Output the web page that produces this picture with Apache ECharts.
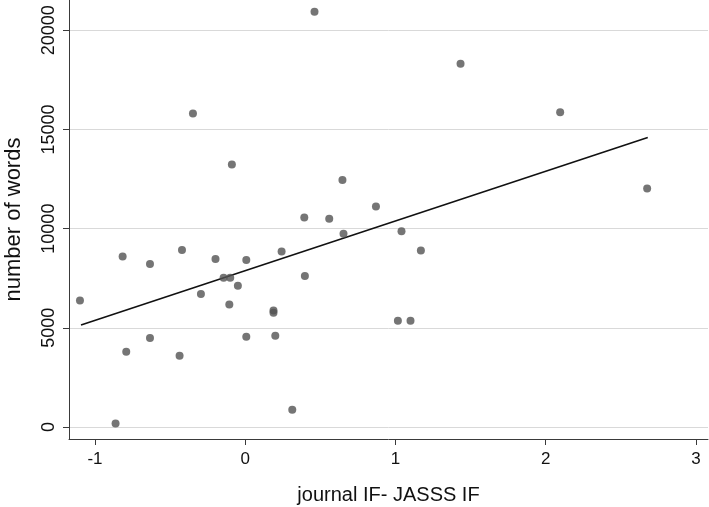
<!DOCTYPE html>
<html>
<head>
<meta charset="utf-8">
<script src="https://cdn.jsdelivr.net/npm/echarts@6/dist/echarts.min.js"></script>
<style>
  html, body { margin: 0; padding: 0; background: #ffffff; }
  #chart { width: 709px; height: 507px; }
</style>
</head>
<body>
<div id="chart"></div>
<script>
// Journal IF difference (x) vs number of words (y)
const journalIF = [-1.100, -0.863, -0.816, -0.792, -0.634, -0.634, -0.421, -0.437, -0.348, -0.295,
  -0.198, -0.144, -0.100, -0.106, -0.089, -0.049, 0.007, 0.007, 0.188, 0.188,
  0.200, 0.242, 0.313, 0.393, 0.397, 0.461, 0.559, 0.647, 0.654, 0.870,
  1.040, 1.016, 1.100, 1.169, 1.433, 2.096, 2.675];
const numberOfWords = [6380, 181, 8594, 3793, 8212, 4484, 8917, 3592, 15798, 6700,
  8463, 7521, 7521, 6176, 13229, 7118, 8413, 4549, 5869, 5758,
  4599, 8846, 872, 10559, 7607, 20937, 10494, 12458, 9738, 11113,
  9874, 5355, 5355, 8897, 18317, 15869, 12020];
// Fitted line endpoints
const fitX = [-1.093, 2.679];
const fitY = [5139, 14589];
// Tick labels
const xTicks = [-1, 0, 1, 2, 3];
const yTicks = [0, 5000, 10000, 15000, 20000];

const scatterData = journalIF.map((x, i) => [x, numberOfWords[i]]);
const fitData = fitX.map((x, i) => [x, fitY[i]]);

const chart = echarts.init(document.getElementById('chart'), null, { renderer: 'canvas' });
const axisColor = '#3a3a3a';
const font = '"Liberation Sans", Arial, sans-serif';
chart.setOption({
  animation: false,
  backgroundColor: '#ffffff',
  grid: { left: 69, right: 1, top: 0, bottom: 68, containLabel: false, outerBoundsMode: 'none' },
  xAxis: {
    type: 'value',
    min: -1.173,
    max: 3.08,
    name: 'journal IF- JASSS IF',
    nameLocation: 'middle',
    nameGap: 46,
    nameTextStyle: { fontSize: 20, color: '#111', fontFamily: font },
    axisLine: { show: true, onZero: false, lineStyle: { color: axisColor, width: 1 } },
    axisTick: { show: true, length: 6, customValues: xTicks, lineStyle: { color: axisColor } },
    axisLabel: { customValues: xTicks, fontSize: 17, color: '#111', fontFamily: font, margin: 12,
      formatter: v => String(v) },
    splitLine: { show: false }
  },
  yAxis: {
    type: 'value',
    min: -605,
    max: 21526,
    name: 'number of words',
    nameLocation: 'middle',
    nameGap: 44,
    nameRotate: 90,
    nameTextStyle: { fontSize: 22, color: '#111', fontFamily: font },
    axisLine: { show: true, onZero: false, lineStyle: { color: axisColor, width: 1 } },
    axisTick: { show: true, length: 6, customValues: yTicks, lineStyle: { color: axisColor } },
    axisLabel: { customValues: yTicks, rotate: 90, fontSize: 18, color: '#111', fontFamily: font, margin: 11,
      formatter: v => String(v) },
    splitLine: { show: true, lineStyle: { color: '#d9d9d9', width: 1 } }
  },
  series: [
    {
      type: 'scatter',
      data: scatterData,
      symbol: 'circle',
      symbolSize: 8,
      itemStyle: { color: '#525252' },
      z: 3
    },
    {
      type: 'line',
      data: fitData,
      symbol: 'none',
      lineStyle: { color: '#111', width: 1.6 },
      z: 2
    }
  ]
});
</script>
</body>
</html>
